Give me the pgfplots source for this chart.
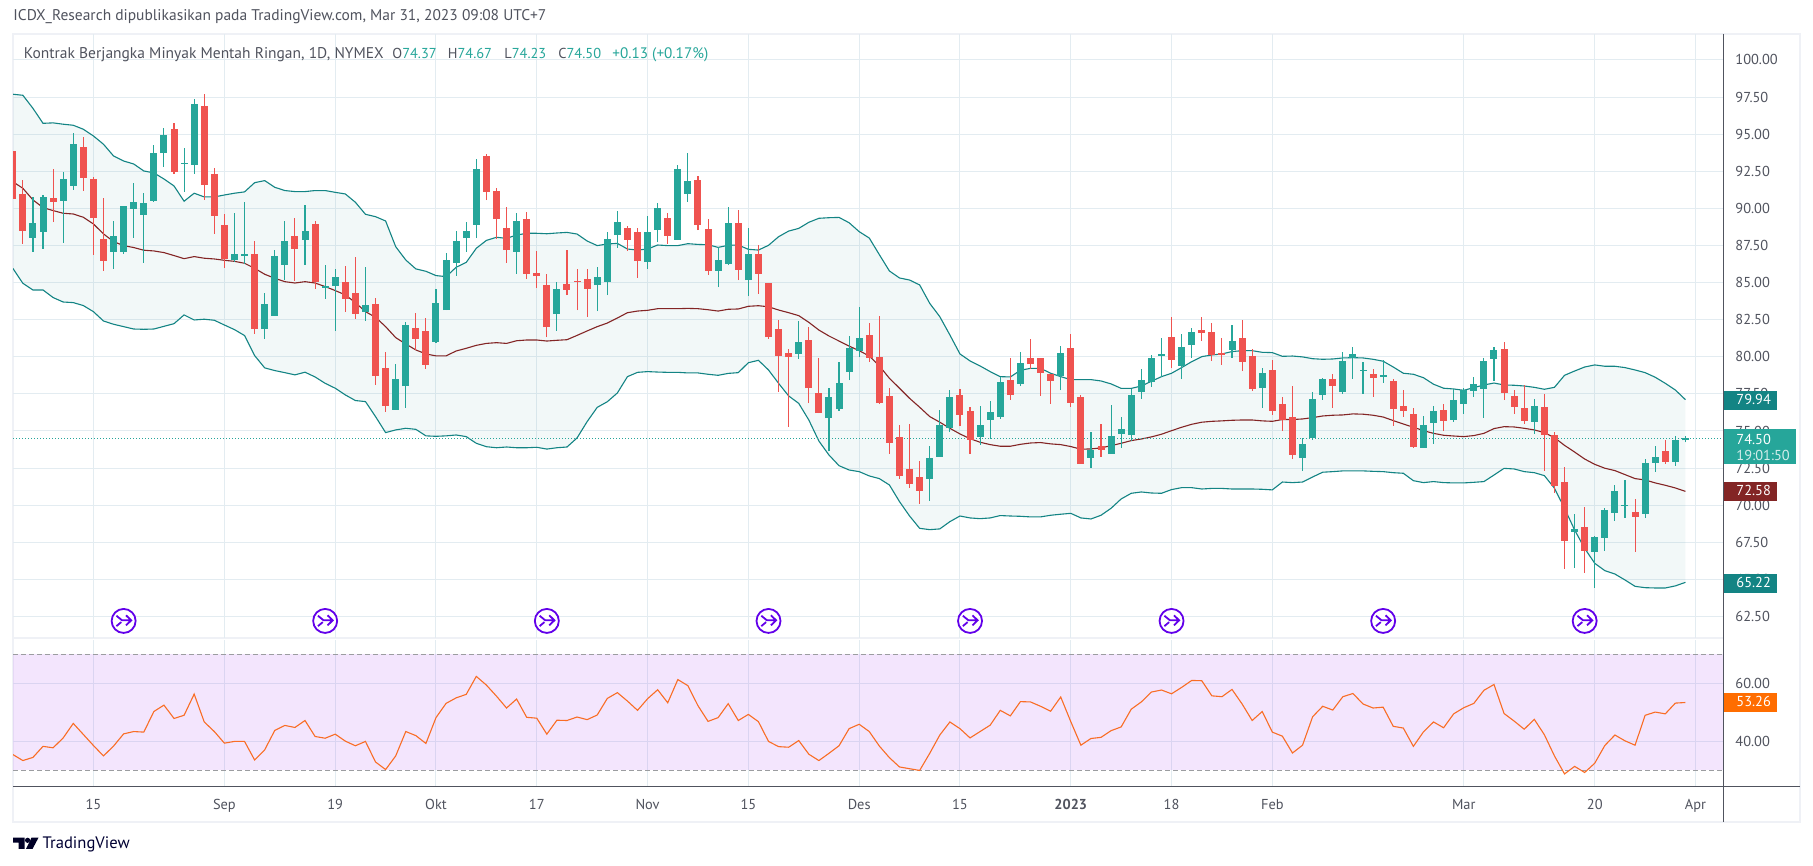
\documentclass[border=0pt]{standalone}
\usepackage{fontspec}
\setmainfont{PT Sans}
\usepackage{pgfplots}
\usepackage{pgfplotstable}
\pgfplotsset{compat=1.18}

\definecolor{upc}{HTML}{26A69A}
\definecolor{dnc}{HTML}{EF5350}
\definecolor{bandc}{HTML}{138484}
\definecolor{basisc}{HTML}{832525}
\definecolor{rsic}{HTML}{F96D25}
\definecolor{tagor}{HTML}{FF6D00}
\definecolor{gridc}{HTML}{E3ECF1}
\definecolor{framec}{HTML}{EFF1F6}
\definecolor{labc}{HTML}{50535E}
\definecolor{axc}{HTML}{50535E}
\definecolor{rollc}{HTML}{6200EA}

% rollover icon
\pgfdeclareplotmark{tvroll}{%
  \pgfsetlinewidth{0.9pt}%
  \pgfpathcircle{\pgfpointorigin}{6pt}%
  \pgfusepathqfillstroke
  \pgfpathmoveto{\pgfpoint{-3.6pt}{2.6pt}}%
  \pgfpathlineto{\pgfpoint{-0.8pt}{0.3pt}}%
  \pgfpathlineto{\pgfpoint{3.8pt}{0.3pt}}%
  \pgfpathmoveto{\pgfpoint{1.2pt}{2.8pt}}%
  \pgfpathlineto{\pgfpoint{3.8pt}{0.3pt}}%
  \pgfpathlineto{\pgfpoint{1.2pt}{-2.2pt}}%
  \pgfpathmoveto{\pgfpoint{-3.6pt}{-2.6pt}}%
  \pgfpathlineto{\pgfpoint{-1.2pt}{-0.6pt}}%
  \pgfusepathqstroke
}

% n open high low close
\pgfplotstableread{
n o h l c
2 88.01 90.75 87.06 89.02
3 88.41 90.90 87.27 90.77
5 90.50 92.45 87.67 91.98
6 91.51 95.08 91.24 94.34
10 87.06 89.15 85.92 88.14
11 87.06 90.16 86.93 90.16
12 89.96 91.71 88.01 90.43
13 89.56 91.04 86.32 90.36
14 90.50 94.27 90.43 93.73
15 93.73 95.42 92.79 94.95
17 92.99 94.07 91.11 93.06
18 92.93 97.37 92.32 97.04
22 86.52 89.69 86.39 86.93
23 86.79 90.43 86.25 86.93
25 81.87 84.30 81.20 83.56
26 82.75 87.20 82.75 86.79
27 86.19 89.15 85.18 87.80
29 87.87 90.23 86.19 88.48
31 84.64 86.19 83.90 84.77
32 84.77 85.92 81.74 85.38
35 83.02 86.05 82.41 83.49
38 76.42 79.52 76.42 78.51
39 78.03 82.35 76.55 82.14
42 81.00 84.57 80.93 83.63
43 83.15 87.00 83.15 86.52
44 86.32 88.48 85.45 87.80
45 88.00 89.08 87.06 88.47
46 88.88 93.32 88.00 92.65
50 87.06 89.69 85.58 89.15
54 82.88 85.04 81.74 84.57
58 84.83 86.05 83.08 85.37
59 85.04 88.41 84.16 87.93
60 88.20 89.82 87.33 89.08
63 86.38 89.48 85.91 88.41
64 88.54 90.36 87.73 90.02
66 87.87 92.92 87.87 92.65
67 90.97 93.73 90.43 91.84
70 85.78 87.40 84.70 86.52
71 86.25 90.09 86.18 89.01
73 85.17 88.68 84.09 86.92
78 80.19 82.41 79.85 80.99
81 75.87 77.89 73.65 77.29
82 76.48 79.65 76.35 78.23
83 78.97 81.40 78.43 80.59
84 80.39 83.35 79.98 81.26
91 71.77 73.99 70.29 73.18
92 73.25 76.42 73.25 75.41
93 75.20 77.76 74.93 77.29
96 74.60 76.69 74.06 75.41
97 75.74 77.02 74.46 76.28
98 75.95 78.64 75.81 78.30
100 78.17 80.32 78.03 79.58
104 78.71 80.73 77.76 80.26
107 73.18 74.93 72.51 73.72
109 73.45 76.75 73.45 74.67
110 74.80 75.95 73.86 75.14
111 74.73 77.83 74.33 77.43
112 77.63 79.18 77.16 78.44
113 78.30 80.12 77.97 79.92
114 80.05 81.27 78.64 80.19
116 79.38 81.54 78.50 80.66
117 80.80 81.94 79.92 81.67
121 80.46 82.14 79.92 81.07
124 77.90 79.25 76.55 78.91
128 73.18 74.53 72.31 74.13
129 74.53 77.63 74.40 77.16
130 77.43 78.57 77.09 78.51
132 77.63 80.33 77.50 79.72
133 79.92 80.66 78.51 80.19
134 79.05 79.65 77.50 79.11
136 78.64 79.79 78.24 78.78
140 73.86 76.01 73.86 75.41
141 75.54 76.69 74.13 76.35
143 75.74 77.83 75.61 77.09
144 76.82 77.90 76.15 77.76
145 77.70 78.64 77.29 78.17
146 77.83 79.92 75.88 79.72
147 79.85 80.66 78.37 80.46
151 75.61 77.16 74.80 76.69
155 68.20 69.41 65.77 68.40
157 66.85 67.93 64.42 67.86
158 67.79 69.81 66.92 69.68
159 69.48 71.36 68.94 70.96
160 69.95 71.70 69.14 70.02
162 69.41 73.12 69.14 72.85
163 72.85 73.99 72.24 73.25
165 72.91 74.67 72.64 74.40
166 74.37 74.67 74.23 74.50
}\upcandles

\pgfplotstableread{
n o h l c
0 93.87 93.87 90.66 90.66
1 90.97 91.91 87.60 88.48
4 90.70 92.66 89.08 90.43
7 94.14 94.81 91.17 92.05
8 91.98 92.12 86.86 89.35
9 87.94 90.70 85.78 86.46
16 95.35 95.76 92.32 92.45
19 96.90 97.71 90.57 91.58
20 92.32 92.72 88.28 89.49
21 88.88 89.62 85.99 86.59
24 86.93 87.80 81.54 81.87
28 88.14 89.35 85.11 87.27
30 88.95 89.15 84.57 85.04
33 85.04 86.12 83.02 83.90
34 84.30 86.73 82.55 82.89
36 83.56 83.96 78.10 78.71
37 79.25 80.33 76.28 76.69
40 81.94 82.95 80.46 81.20
41 81.74 82.62 79.18 79.45
47 93.53 93.66 90.56 91.10
48 91.17 91.37 87.93 89.28
49 88.68 90.09 86.32 87.19
51 89.28 89.75 85.24 85.58
52 85.64 87.13 84.63 85.44
53 84.83 85.58 81.33 82.00
55 84.90 87.19 84.16 84.50
56 85.10 85.91 83.15 85.04
57 85.24 85.91 82.68 84.57
61 88.68 88.81 87.13 87.87
62 88.41 88.68 85.31 86.45
65 89.35 89.69 87.60 88.14
68 91.91 92.18 88.54 88.88
69 88.61 89.28 85.51 85.78
72 89.01 89.89 85.17 85.85
74 86.92 87.53 84.23 85.58
75 84.97 84.97 81.20 81.33
76 81.87 82.48 77.63 80.05
77 80.25 80.52 75.27 79.98
79 81.13 82.00 76.88 77.89
80 77.56 79.92 76.21 76.21
85 81.47 82.27 79.65 79.92
86 79.98 82.75 76.82 76.88
87 77.36 77.89 73.45 74.19
88 74.60 75.41 71.77 71.97
89 72.44 75.47 71.16 71.43
90 71.90 72.98 70.08 70.96
94 77.43 77.83 75.34 76.08
95 76.35 76.62 73.45 74.40
99 78.44 79.92 77.09 77.43
101 79.92 81.20 79.18 79.51
102 79.92 79.92 77.36 78.91
103 78.84 78.84 76.82 78.37
105 80.59 81.54 76.62 76.89
106 77.29 77.43 72.78 72.78
108 73.99 75.47 73.25 73.72
115 81.34 82.68 79.25 79.79
118 81.81 82.68 81.07 81.60
119 81.67 82.28 79.72 80.12
120 80.26 81.27 79.45 80.12
122 81.27 82.48 79.04 79.65
123 80.05 80.53 77.70 77.83
125 79.11 79.79 76.08 76.35
126 76.82 77.29 75.00 75.74
127 75.95 78.03 73.11 73.39
131 78.51 78.84 76.55 78.03
135 78.84 79.18 77.29 78.57
137 78.37 78.51 75.34 76.49
138 76.69 77.76 75.95 76.35
139 76.15 76.55 73.86 73.92
142 76.42 76.82 75.00 75.68
148 80.53 81.00 77.09 77.56
149 77.36 77.76 76.15 76.62
150 76.55 78.10 75.47 75.68
152 76.62 77.50 72.31 74.73
153 74.73 74.93 70.83 71.30
154 71.57 72.58 65.70 67.59
156 68.53 69.88 65.44 66.92
161 69.55 70.42 66.85 69.21
164 73.66 74.40 72.78 72.91
}\dncandles

% bollinger bands
\pgfplotstableread{
n up mid lo
0 97.69 91.80 85.96
1 97.62 91.35 84.95
2 96.74 90.57 84.50
3 95.73 90.05 84.50
4 95.76 89.85 83.99
5 95.67 89.67 83.69
6 95.60 89.62 83.65
7 95.33 89.40 83.45
8 94.88 88.95 83.04
9 94.32 88.28 82.41
10 93.53 87.76 82.19
11 93.19 87.49 82.03
12 92.99 87.36 81.87
13 92.52 87.18 81.85
14 92.39 87.13 81.87
15 91.98 87.02 82.05
16 91.51 86.82 82.23
17 90.48 86.61 82.82
18 91.02 86.75 82.48
19 90.77 86.64 82.53
20 90.77 86.59 82.46
21 90.90 86.50 82.14
22 91.02 86.43 81.83
23 91.11 86.30 81.43
24 91.73 85.96 80.08
25 91.87 85.56 79.25
26 91.42 85.29 79.07
27 91.20 85.06 78.93
28 91.13 84.97 78.78
29 91.13 85.06 78.96
30 91.20 84.97 78.64
31 91.20 84.73 78.21
32 91.08 84.46 77.88
33 90.97 84.17 77.43
34 90.41 83.65 77.05
35 89.60 83.04 76.98
36 89.44 82.66 75.97
37 89.15 82.03 74.89
38 87.42 81.29 75.07
39 86.52 80.86 75.18
40 85.92 80.46 75.11
41 85.76 80.19 74.67
42 85.47 80.06 74.64
43 85.40 80.06 74.67
44 86.03 80.39 74.73
45 86.36 80.57 74.62
46 87.31 80.77 74.17
47 87.84 80.90 73.94
48 88.05 80.95 73.87
49 87.98 80.90 73.92
50 88.20 81.08 73.87
51 88.32 81.13 73.87
52 88.32 81.13 73.90
53 88.29 81.06 73.78
54 88.34 81.11 73.87
55 88.38 81.15 73.92
56 88.27 81.44 74.53
57 87.80 81.74 75.63
58 87.49 82.03 76.59
59 87.60 82.27 76.97
60 87.64 82.61 77.56
61 87.26 82.97 78.66
62 87.19 83.08 78.95
63 87.26 83.13 79.00
64 87.53 83.24 78.97
65 87.49 83.24 78.95
66 87.49 83.24 78.95
67 87.62 83.26 78.91
68 87.57 83.24 78.91
69 87.55 83.17 78.82
70 87.37 83.08 78.75
71 87.51 83.20 78.88
72 87.53 83.22 78.93
73 87.24 83.40 79.60
74 87.19 83.44 79.76
75 87.51 83.37 79.11
76 88.09 83.15 78.21
77 88.47 82.97 77.36
78 88.65 82.77 76.86
79 89.06 82.32 75.74
80 89.33 81.80 74.32
81 89.37 81.40 73.38
82 89.39 81.06 72.66
83 89.03 80.72 72.37
84 88.43 80.41 72.26
85 88.00 80.05 71.97
86 86.88 79.38 71.79
87 85.78 78.55 71.36
88 85.31 77.88 70.24
89 85.17 77.20 69.27
90 84.84 76.60 68.44
91 83.60 75.97 68.35
92 82.70 75.59 68.40
93 81.47 75.18 68.89
94 80.19 74.80 69.27
95 79.72 74.48 69.14
96 79.38 74.24 69.09
97 79.00 74.08 69.14
98 78.66 73.97 69.30
99 78.64 73.97 69.27
100 79.09 74.10 69.25
101 79.22 74.19 69.21
102 79.22 74.22 69.21
103 78.89 74.13 69.32
104 78.66 74.08 69.39
105 78.46 73.95 69.45
106 78.46 73.77 69.14
107 78.46 73.79 69.07
108 78.37 73.86 69.32
109 78.17 74.01 69.79
110 77.87 74.17 70.42
111 77.87 74.35 70.80
112 78.03 74.46 70.89
113 78.35 74.60 70.82
114 78.66 74.78 70.80
115 78.89 75.02 71.05
116 79.27 75.25 71.18
117 79.67 75.45 71.18
118 80.01 75.59 71.09
119 80.12 75.65 71.13
120 80.19 75.68 71.13
121 80.35 75.72 71.09
122 80.41 75.74 71.09
123 80.41 75.74 71.09
124 80.30 75.68 71.07
125 80.28 75.65 71.03
126 80.03 75.77 71.56
127 80.05 75.77 71.52
128 79.99 75.81 71.56
129 79.87 75.90 71.90
130 79.83 76.01 72.22
131 79.85 76.06 72.26
132 79.92 76.08 72.31
133 79.94 76.15 72.31
134 79.92 76.13 72.31
135 79.83 76.06 72.28
136 79.70 75.94 72.26
137 79.31 75.70 72.19
138 78.89 75.47 72.15
139 78.82 75.25 71.65
140 78.59 75.02 71.52
141 78.15 74.84 71.59
142 77.88 74.71 71.52
143 77.83 74.66 71.50
144 77.74 74.62 71.50
145 77.92 74.69 71.54
146 78.10 74.84 71.59
147 78.23 75.16 72.03
148 78.10 75.29 72.48
149 78.08 75.27 72.44
150 78.03 75.18 72.26
151 77.94 75.07 72.19
152 77.81 74.89 71.99
153 77.94 74.55 71.14
154 78.75 74.03 69.79
155 79.04 73.58 68.33
156 79.31 73.11 67.09
157 79.45 72.75 66.08
158 79.36 72.49 65.59
159 79.36 72.33 65.36
160 79.27 72.06 64.96
161 79.11 71.79 64.53
162 78.93 71.70 64.44
163 78.62 71.50 64.42
164 78.21 71.34 64.42
165 77.76 71.16 64.56
166 77.11 70.93 64.80
}\bands

\pgfplotstableread{
n v
0 35.5
1 33.4
2 34.5
3 38.3
4 37.8
5 41.2
6 46.2
7 42.4
8 38.6
9 35.0
10 38.4
11 42.6
12 43.4
13 43.2
14 50.3
15 52.5
16 47.9
17 49.0
18 56.3
19 46.7
20 43.4
21 39.4
22 40.0
23 40.0
24 33.6
25 37.1
26 43.8
27 45.5
28 44.8
29 47.2
30 41.7
31 41.1
32 42.5
33 40.1
34 38.5
35 40.0
36 32.9
37 30.3
38 35.0
39 43.4
40 42.0
41 39.3
42 48.2
43 53.1
44 55.0
45 56.2
46 62.4
47 59.4
48 55.6
49 51.5
50 54.6
51 48.3
52 48.0
53 42.5
54 47.3
55 47.2
56 48.4
57 47.5
58 49.1
59 54.8
60 56.8
61 53.9
62 50.7
63 54.7
64 57.8
65 53.3
66 61.3
67 59.2
68 52.3
69 46.9
70 48.2
71 53.0
72 47.2
73 49.3
74 46.8
75 40.0
76 38.2
77 38.0
78 40.3
79 35.6
80 33.4
81 35.9
82 38.5
83 44.4
84 45.9
85 43.4
86 38.4
87 34.4
88 31.2
89 30.6
90 30.0
91 35.9
92 42.2
93 46.7
94 44.4
95 41.2
96 43.4
97 45.6
98 50.7
99 48.8
100 53.7
101 53.6
102 52.1
103 50.4
104 55.3
105 46.8
106 38.7
107 41.0
108 41.4
109 43.7
110 45.0
111 51.1
112 53.6
113 57.0
114 57.7
115 56.4
116 58.6
117 61.0
118 60.9
119 55.7
120 55.4
121 57.9
122 52.9
123 47.2
124 50.3
125 43.2
126 41.8
127 36.0
128 38.7
129 48.5
130 52.1
131 50.8
132 55.4
133 56.5
134 52.9
135 51.5
136 51.8
137 45.2
138 44.6
139 38.3
140 43.3
141 46.7
142 44.7
143 49.5
144 51.6
145 53.1
146 57.6
147 59.6
148 49.6
149 47.0
150 44.2
151 47.6
152 42.3
153 35.0
154 28.8
155 31.4
156 29.3
157 32.5
158 38.6
159 42.2
160 40.2
161 38.7
162 49.0
163 50.1
164 49.5
165 53.2
166 53.4
}\rsidata

\newcommand{\fs}{\fontsize{7.2}{8.6}\selectfont}
\newcommand{\fh}{\fontsize{7.75}{9}\selectfont}
% page position from reference pixels
\newcommand{\px}[2]{({(#1)*0.5pt},{(866-(#2))*0.5pt})}

\pgfplotsset{
  tvaxis/.style={
    scale only axis, width=855pt,
    xmin=0.02, xmax=169.73,
    xtick={8,21,32,42,52,63,73,84,94,105,115,125,144,157,167},
    grid=major, grid style={color=gridc, line width=0.5pt},
    axis line style={draw=none},
    major tick length=0pt,
    yticklabel pos=right,
    yticklabel style={font=\fs, text=labc, anchor=west, inner sep=0pt, xshift=6pt,
      /pgf/number format/.cd, fixed, fixed zerofill, precision=2, assume math mode=true},
    anchor=south west,
  },
}

\begin{document}
\begin{tikzpicture}
\fill[white] \px{0}{866} rectangle \px{1813}{0};

\draw[framec, line width=1.2pt] \px{13}{822} rectangle \px{1800}{34};
\draw[framec, line width=1pt] \px{13}{638.5} -- \px{1723}{638.5};

% price pane
\begin{axis}[tvaxis, at={(6.5pt,114pt)}, height=302pt,
    ymin=61.05, ymax=101.75,
    ytick={62.5,65,67.5,70,72.5,75,77.5,80,82.5,85,87.5,90,92.5,95,97.5,100},
    xticklabels={}]
  % band fill
  \addplot[draw=none, stack plots=y, forget plot] table[x=n, y=lo] {\bands};
  \addplot[draw=none, stack plots=y, fill={rgb,255:red,15;green,135;blue,135}, fill opacity=0.05]
    table[x=n, y expr=\thisrow{up}-\thisrow{lo}] {\bands} \closedcycle;
  \addplot[bandc, line width=0.55pt] table[x=n, y=up] {\bands};
  \addplot[bandc, line width=0.55pt] table[x=n, y=lo] {\bands};
  \addplot[basisc, line width=0.55pt] table[x=n, y=mid] {\bands};
  \addplot[upc, line width=0.5pt, dash pattern=on 0.5pt off 1pt] coordinates {(0.02,74.50) (169.73,74.50)};

  % wicks
  \addplot[draw=none, error bars/.cd, y dir=plus, y explicit, error mark=none,
    error bar style={upc, line width=0.55pt}]
    table[x=n, y expr=\thisrow{l}, y error plus expr=\thisrow{h}-\thisrow{l}] {\upcandles};
  \addplot[draw=none, error bars/.cd, y dir=plus, y explicit, error mark=none,
    error bar style={dnc, line width=0.55pt}]
    table[x=n, y expr=\thisrow{l}, y error plus expr=\thisrow{h}-\thisrow{l}] {\dncandles};
  % bodies
  \addplot[draw=none, error bars/.cd, y dir=plus, y explicit, error mark=none,
    error bar style={upc, line width=3.5pt}]
    table[x=n, y expr=\thisrow{o}, y error plus expr=\thisrow{c}-\thisrow{o}] {\upcandles};
  \addplot[draw=none, error bars/.cd, y dir=plus, y explicit, error mark=none,
    error bar style={dnc, line width=3.5pt}]
    table[x=n, y expr=\thisrow{c}, y error plus expr=\thisrow{o}-\thisrow{c}] {\dncandles};

  \addplot[only marks, mark=tvroll, mark options={draw=rollc, fill=white}] coordinates {
    (11,62.2) (31,62.2) (53,62.2) (75,62.2) (95,62.2) (115,62.2) (136,62.2) (156,62.2)};
\end{axis}

% RSI pane
\begin{axis}[tvaxis, at={(6.5pt,39.5pt)}, height=73.5pt,
    ymin=24.3, ymax=74.93,
    ytick={40,60},
    xticklabels={15,Sep,19,Okt,17,Nov,15,Des,15,\textbf{2023},18,Feb,Mar,20,Apr},
    xticklabel style={font=\fs, text=labc, inner sep=0pt, anchor=base, yshift=-11.5pt}]
  \addplot[draw=none, fill={rgb,255:red,145;green,5;blue,245}, fill opacity=0.1]
    coordinates {(0.02,30) (169.73,30) (169.73,70) (0.02,70)} -- cycle;
  \addplot[color=black!35!framec, line width=0.5pt, dash pattern=on 2.5pt off 1.5pt] coordinates {(0.02,70) (169.73,70)};
  \addplot[color=black!35!framec, line width=0.5pt, dash pattern=on 2.5pt off 1.5pt] coordinates {(0.02,30) (169.73,30)};
  \addplot[rsic, line width=0.55pt] table[x=n, y=v] {\rsidata};
\end{axis}

% axis rules
\draw[axc, line width=0.5pt] \px{13}{787} -- \px{1800}{787};
\draw[axc, line width=0.5pt] \px{1723}{34} -- \px{1723}{822};

% value tags
\newcommand{\tagbox}[5]{%
  \fill[#1] \px{1723.5}{#2} rectangle \px{#5}{#3};
  \node[anchor=base west, inner sep=0pt, font=\fs, text=white] at \px{1736}{#3-5.5} {#4};}
\tagbox{bandc}{391}{410}{79.94}{1776.5}
\tagbox{basisc}{482}{501}{72.58}{1776.5}
\tagbox{bandc}{574}{593}{65.22}{1776.5}
\tagbox{tagor}{693}{712}{53.26}{1777}
\fill[upc] \px{1723.5}{429} rectangle \px{1796}{464};
\node[anchor=base west, inner sep=0pt, font=\fs, text=white] at \px{1736}{444.5} {74.50};
\node[anchor=base west, inner sep=0pt, font=\fs, text=white!80!upc] at \px{1736}{460.5} {19:01:50};

% header
\node[anchor=base west, inner sep=0pt, font=\fh, text=labc] at \px{13}{20.5} {ICDX\_Research dipublikasikan pada TradingView.com, Mar 31, 2023 09:08 UTC+7};
\node[anchor=base west, inner sep=0pt, font=\fh, text=labc] at \px{23.5}{58.5} {Kontrak Berjangka Minyak Mentah Ringan, 1D, NYMEX};
\node[anchor=base west, inner sep=0pt, font=\fs, text=labc] at \px{392}{58.5} {O\textcolor{upc}{74.37}};
\node[anchor=base west, inner sep=0pt, font=\fs, text=labc] at \px{447.5}{58.5} {H\textcolor{upc}{74.67}};
\node[anchor=base west, inner sep=0pt, font=\fs, text=labc] at \px{504}{58.5} {L\textcolor{upc}{74.23}};
\node[anchor=base west, inner sep=0pt, font=\fs, text=labc] at \px{558}{58.5} {C\textcolor{upc}{74.50}};
\node[anchor=base west, inner sep=0pt, font=\fontsize{7.6}{9}\selectfont, text=upc] at \px{612}{58.5} {+0.13 (+0.17\%)};

% logo
\fill[black!85!blue] \px{13}{837.7} -- \px{24.5}{837.7} -- \px{24.5}{849} -- \px{18.5}{849} -- \px{18.5}{842.7} -- \px{13}{842.7} -- cycle;
\fill[black!85!blue] \px{27.6}{840.3} circle[radius=1.3pt];
\fill[black!85!blue] \px{31.5}{837.7} -- \px{38.5}{837.7} -- \px{32.5}{849} -- \px{26}{849} -- cycle;
\node[anchor=base west, inner sep=0pt, font=\fontsize{8.3}{9}\selectfont, text=black!80!blue] at \px{42.3}{849} {TradingView};
\end{tikzpicture}
\end{document}
